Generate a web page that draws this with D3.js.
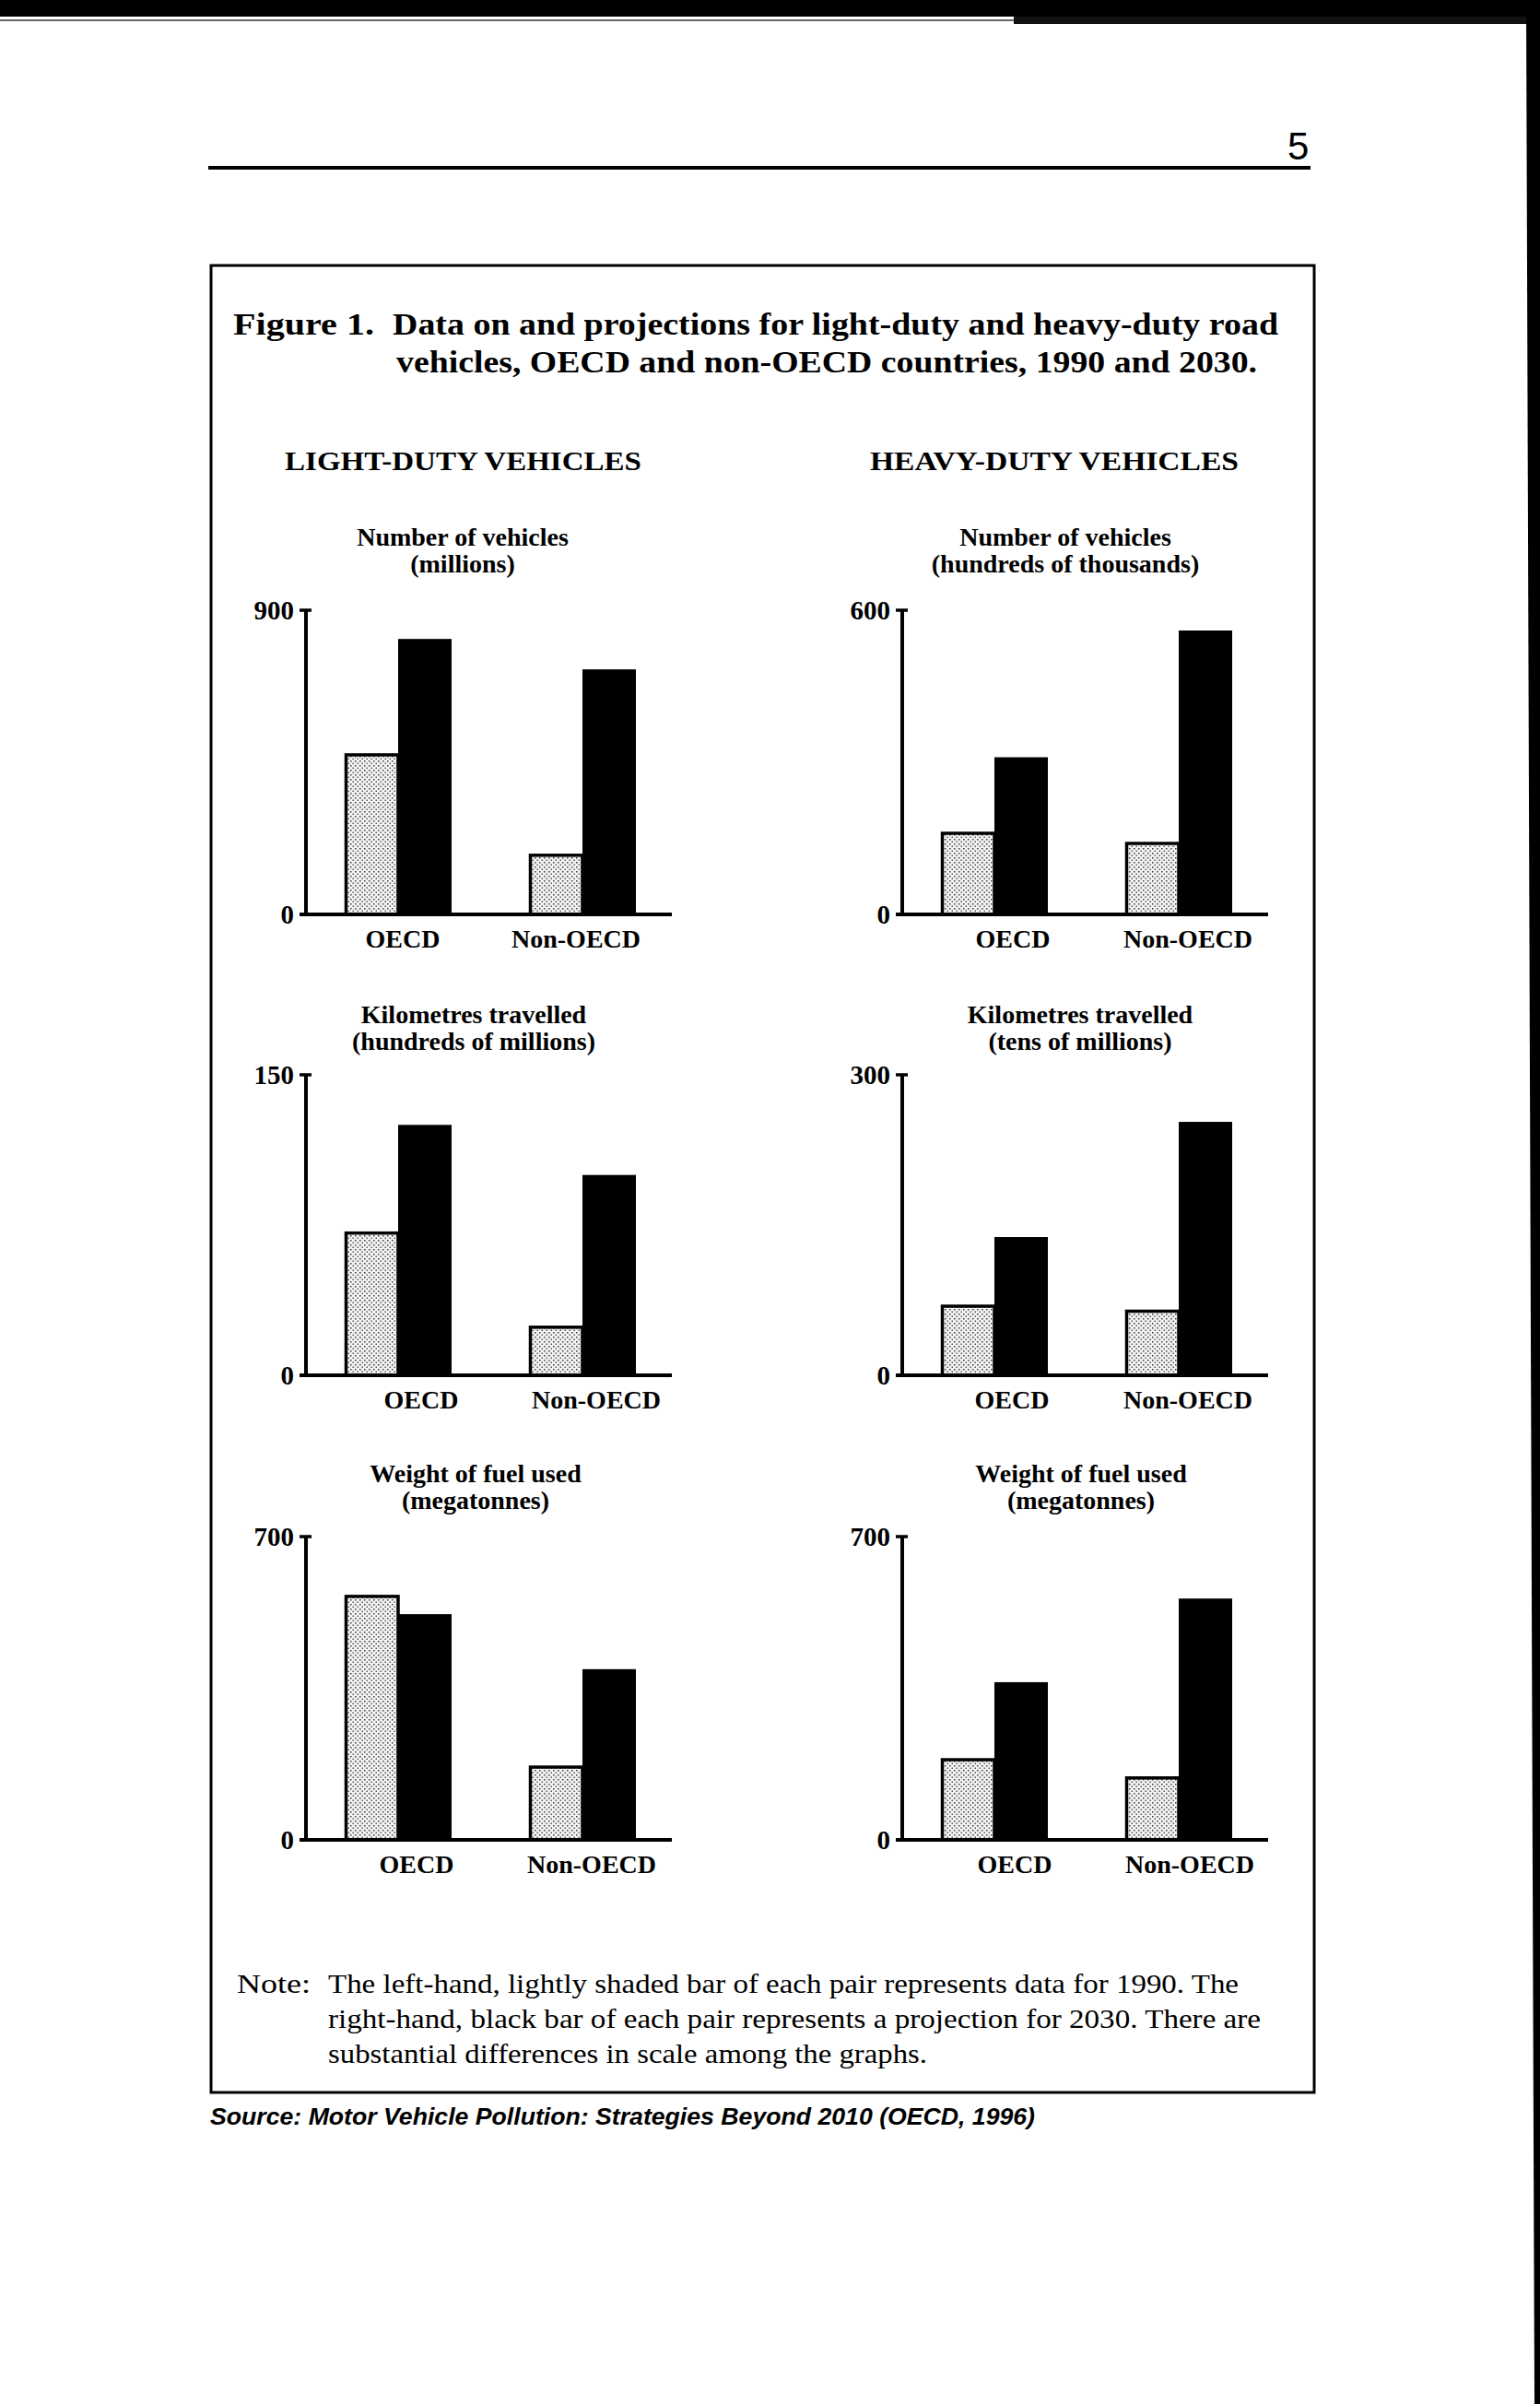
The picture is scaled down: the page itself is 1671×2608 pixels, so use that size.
<!DOCTYPE html>
<html>
<head>
<meta charset="utf-8">
<script src="https://cdn.jsdelivr.net/npm/d3@7"></script>
<style>
  html, body { margin: 0; padding: 0; background: #fff; }
  svg { display: block; }
</style>
</head>
<body>
<svg id="chart" width="1671" height="2608"></svg>
<script>
// ---------------- DATA ----------------
const categories = ["OECD", "Non-OECD"];
const years = ["1990", "2030"];
const panelTitles = [
  ["Number of vehicles", "(millions)"],
  ["Number of vehicles", "(hundreds of thousands)"],
  ["Kilometres travelled", "(hundreds of millions)"],
  ["Kilometres travelled", "(tens of millions)"],
  ["Weight of fuel used", "(megatonnes)"],
  ["Weight of fuel used", "(megatonnes)"]
];
const yMax = [900, 600, 150, 300, 700, 700];
const values1990 = [[472, 175], [160, 140], [71, 24], [69, 64], [562, 168], [185, 143]];
const values2030 = [[815, 725], [310, 560], [125, 100], [138, 253], [521, 394], [364, 557]];
const columnHeads = ["LIGHT-DUTY VEHICLES", "HEAVY-DUTY VEHICLES"];
const titleLabel = "Figure 1.";
const titleLines = ["Data on and projections for light-duty and heavy-duty road",
                    "vehicles, OECD and non-OECD countries, 1990 and 2030."];
const noteLabel = "Note:";
const noteLines = [
  "The left-hand, lightly shaded bar of each pair represents data for 1990. The",
  "right-hand, black bar of each pair represents a projection for 2030. There are",
  "substantial differences in scale among the graphs."
];
const sourceText = "Source:  Motor Vehicle Pollution:  Strategies Beyond 2010 (OECD, 1996)";
const pageNumber = "5";

// ---------------- LAYOUT ----------------
const colX = [332, 979];
const rowTop = [662, 1166, 1667];
const rowZero = [992, 1492, 1996];
const subtitleY = [592, 1110, 1608];
const subtitleX = [502, 1156, 514, 1172, 516, 1173];
const labelDx = [[5, -7], [20, 10], [25, 15], [19, 10], [20, 10], [22, 12]];
const serif = "'Liberation Serif', 'Times New Roman', serif";

const svg = d3.select("#chart");
const defs = svg.append("defs");
const pat = defs.append("pattern").attr("id", "stipple")
  .attr("patternUnits", "userSpaceOnUse").attr("width", 5).attr("height", 5);
pat.append("rect").attr("width", 5).attr("height", 5).attr("fill", "#f2f2f2");
pat.append("rect").attr("x", 0).attr("y", 0).attr("width", 1.5).attr("height", 1.5).attr("fill", "#3a3a3a");
pat.append("rect").attr("x", 2.5).attr("y", 2.5).attr("width", 1.5).attr("height", 1.5).attr("fill", "#5a5a5a");

// page decorations
svg.append("rect").attr("x", 0).attr("y", 0).attr("width", 1671).attr("height", 18).attr("fill", "#000");
svg.append("rect").attr("x", 1100).attr("y", 18).attr("width", 571).attr("height", 8).attr("fill", "#111");
svg.append("line").attr("x1", 0).attr("x2", 1100).attr("y1", 22).attr("y2", 22)
  .attr("stroke", "#333").attr("stroke-width", 1.5);
svg.append("path").attr("d", "M1656,0 L1671,0 L1671,2608 L1665,2608 Z").attr("fill", "#000");

svg.append("text").attr("x", 1397).attr("y", 173)
  .attr("font-family", "'Liberation Sans', Arial, sans-serif").attr("font-size", 42)
  .text(pageNumber);
svg.append("rect").attr("x", 226).attr("y", 180).attr("width", 1196).attr("height", 4).attr("fill", "#000");

// frame box
svg.append("rect").attr("x", 229).attr("y", 288).attr("width", 1197).attr("height", 1982)
  .attr("fill", "none").attr("stroke", "#000").attr("stroke-width", 3);

// title
svg.append("text").attr("x", 253).attr("y", 363)
  .attr("font-family", serif).attr("font-weight", "bold").attr("font-size", 34)
  .attr("textLength", 153).attr("lengthAdjust", "spacingAndGlyphs")
  .text(titleLabel);
svg.selectAll("text.title").data(titleLines).join("text").attr("class", "title")
  .attr("x", (d, i) => i === 0 ? 426 : 430)
  .attr("y", (d, i) => i === 0 ? 363 : 404)
  .attr("font-family", serif).attr("font-weight", "bold").attr("font-size", 34)
  .attr("textLength", (d, i) => i === 0 ? 961 : 934).attr("lengthAdjust", "spacingAndGlyphs")
  .text(d => d);

// column heads
svg.selectAll("text.head").data(columnHeads).join("text").attr("class", "head")
  .attr("x", (d, i) => i === 0 ? 309 : 944).attr("y", 510)
  .attr("font-family", serif).attr("font-weight", "bold").attr("font-size", 30)
  .attr("textLength", (d, i) => i === 0 ? 387 : 400).attr("lengthAdjust", "spacingAndGlyphs")
  .text(d => d);

// panels
for (let p = 0; p < 6; p++) {
  const row = Math.floor(p / 2), col = p % 2;
  const x0 = colX[col];
  const y = d3.scaleLinear().domain([0, yMax[p]]).range([rowZero[row], rowTop[row]]);
  const x = d3.scaleBand().domain(categories).range([x0, x0 + 400])
    .paddingInner(0.42).paddingOuter(0.21);
  const xs = d3.scaleBand().domain(years).range([0, x.bandwidth()]);
  const g = svg.append("g");

  // subtitle
  g.selectAll("text.sub").data(panelTitles[p]).join("text").attr("class", "sub")
    .attr("x", subtitleX[p]).attr("y", (d, i) => subtitleY[row] + i * 29)
    .attr("text-anchor", "middle")
    .attr("font-family", serif).attr("font-weight", "bold").attr("font-size", 28)
    .text(d => d);

  const rows = categories.map((c, i) => ({ c, i, v: [values1990[p][i], values2030[p][i]] }));

  // bars
  rows.forEach(r => {
    years.forEach((yr, k) => {
      const val = r.v[k];
      const bx = x(r.c) + xs(yr);
      if (k === 0) {
        g.append("rect")
          .attr("x", bx + 1.5).attr("y", y(val))
          .attr("width", xs.bandwidth() - 1.5).attr("height", y(0) - y(val))
          .attr("fill", "url(#stipple)").attr("stroke", "#000").attr("stroke-width", 3.5);
      } else {
        g.append("rect")
          .attr("x", bx).attr("y", y(val))
          .attr("width", xs.bandwidth()).attr("height", y(0) - y(val))
          .attr("fill", "#000");
      }
    });
  });

  // y axis
  const yAxis = d3.axisLeft(y).tickValues([0, yMax[p]]).tickSize(0).tickPadding(13)
    .tickFormat(d3.format("d"));
  const ya = g.append("g").attr("transform", `translate(${x0},0)`).call(yAxis);
  ya.select(".domain").remove();
  ya.selectAll("text").attr("font-family", serif).attr("font-weight", "bold")
    .attr("font-size", 29).attr("fill", "#000").attr("dy", "0.34em");
  g.append("line").attr("x1", x0).attr("x2", x0).attr("y1", y(yMax[p]) - 1).attr("y2", y(0))
    .attr("stroke", "#000").attr("stroke-width", 4);
  g.append("line").attr("x1", x0 - 7).attr("x2", x0 + 6).attr("y1", y(yMax[p])).attr("y2", y(yMax[p]))
    .attr("stroke", "#000").attr("stroke-width", 3.5);

  // x axis
  const xAxis = d3.axisBottom(x).tickSize(0).tickPadding(0);
  const xa = g.append("g").attr("transform", `translate(0,${y(0)})`).call(xAxis);
  xa.select(".domain").remove();
  xa.selectAll(".tick text")
    .attr("transform", (d, i) => `translate(${labelDx[p][i]},0)`)
    .attr("y", 36).attr("dy", 0)
    .attr("font-family", serif).attr("font-weight", "bold").attr("font-size", 28).attr("fill", "#000");
  g.append("line").attr("x1", x0 - 7).attr("x2", x0 + 397).attr("y1", y(0)).attr("y2", y(0))
    .attr("stroke", "#000").attr("stroke-width", 4);
}

// note
svg.append("text").attr("x", 257).attr("y", 2162)
  .attr("font-family", serif).attr("font-size", 30)
  .attr("textLength", 80).attr("lengthAdjust", "spacingAndGlyphs").text(noteLabel);
const noteLen = [988, 1012, 650];
svg.selectAll("text.note").data(noteLines).join("text").attr("class", "note")
  .attr("x", 356).attr("y", (d, i) => 2162 + i * 38)
  .attr("font-family", serif).attr("font-size", 30)
  .attr("textLength", (d, i) => noteLen[i]).attr("lengthAdjust", "spacingAndGlyphs")
  .text(d => d);

// source
svg.append("text").attr("x", 228).attr("y", 2305)
  .attr("font-family", "'Liberation Sans', Arial, sans-serif").attr("font-style", "italic")
  .attr("font-weight", "bold").attr("font-size", 25)
  .attr("textLength", 895).attr("lengthAdjust", "spacingAndGlyphs")
  .text(sourceText);
</script>
</body>
</html>
